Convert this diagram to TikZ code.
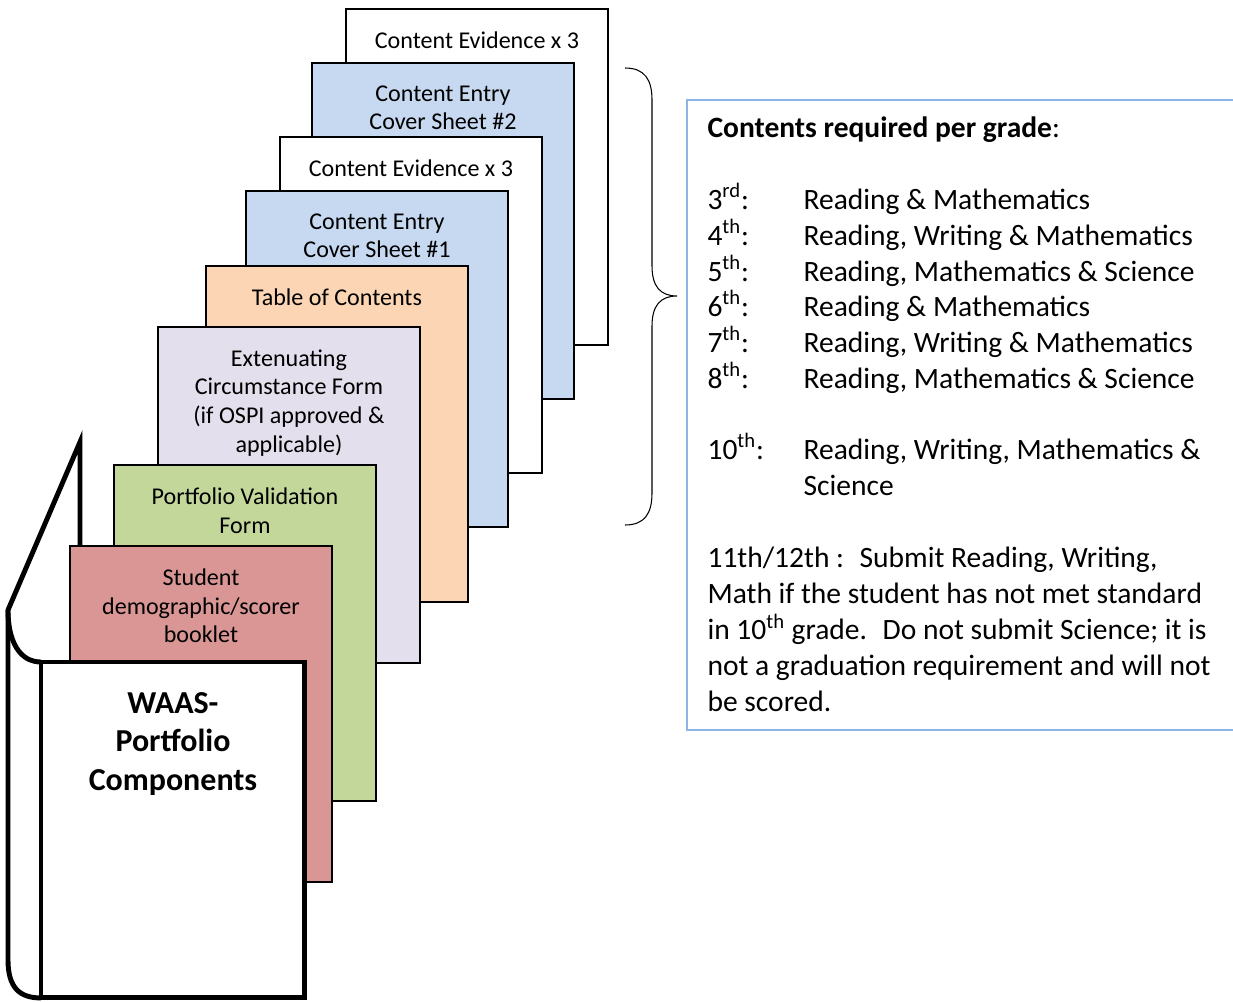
\documentclass[tikz,border=0pt]{standalone}
\usepackage{fontspec}
\setmainfont{Carlito}
\usepackage{xcolor}
\definecolor{sheetblue}{HTML}{C6D9F0}
\definecolor{sheetorange}{HTML}{FCD5B4}
\definecolor{sheetlilac}{HTML}{E4DFEC}
\definecolor{sheetgreen}{HTML}{C4D79B}
\definecolor{sheetpink}{HTML}{D99694}
\definecolor{boxblue}{HTML}{8EB4E3}
\usepackage{tikz}
\usetikzlibrary{positioning}

\begin{document}
\begin{tikzpicture}[x=0.02cm,y=-0.02cm,semithick]
              \tikzstyle{sheet}=[draw=black,line width=1.2pt,minimum width=5.24cm,minimum height=6.72cm,inner sep=0pt,outer sep=0pt,anchor=north west]
              \tikzstyle{sheettext}=[inner sep=0pt,align=center,font=\fontsize{13.7}{16.4}\selectfont]
              \tikzstyle{binder}=[line width=2.8pt]
              \tikzstyle{reqtext}=[anchor=base west,inner sep=0pt,font=\fontsize{16.8}{20.5}\selectfont]

              \path[use as bounding box] (0,0) rectangle (1233,1001);
              \clip (0,0) rectangle (1233,1001);

              % the pages, back to front
              \node[sheet,fill=white]       (s1) at (346,9)   {};
              \node[sheettext,below=0.44cm of s1.north] {Content Evidence x 3};
              \node[sheet,fill=sheetblue]   (s2) at (312,63)  {};
              \node[sheettext,below=0.44cm of s2.north] {Content Entry\\Cover Sheet \#2};
              \node[sheet,fill=white]       (s3) at (280,137) {};
              \node[sheettext,below=0.44cm of s3.north] {Content Evidence x 3};
              \node[sheet,fill=sheetblue]   (s4) at (246,191) {};
              \node[sheettext,below=0.44cm of s4.north] {Content Entry\\Cover Sheet \#1};
              \node[sheet,fill=sheetorange] (s5) at (206,266) {};
              \node[sheettext,below=0.44cm of s5.north] {Table of Contents};
              \node[sheet,fill=sheetlilac]  (s6) at (158,327) {};
              \node[sheettext,below=0.44cm of s6.north] {Extenuating\\Circumstance Form\\(if OSPI approved \&\\applicable)};
              \node[sheet,fill=sheetgreen]  (s7) at (114,465) {};
              \node[sheettext,below=0.44cm of s7.north] {Portfolio Validation\\Form};
              \node[sheet,fill=sheetpink]   (s8) at (70,546)  {};
              \node[sheettext,below=0.44cm of s8.north] {Student\\demographic/scorer\\booklet};

              % binder cover and spine
              \node[sheet,fill=white,line width=2.8pt,minimum width=5.28cm] (front) at (41,662) {};
              \node[sheettext,below=0.6cm of front.north,font=\fontsize{18.2}{21.8}\bfseries] {WAAS-\\Portfolio\\Components};
              \coordinate (hinge) at (8,610);
              \draw[binder] (80,546) -- (80,442) -- (hinge) -- (8,960) .. controls (8,988) and (20,998) .. (front.south west);
              \draw[binder] (hinge) .. controls (8,642) and (20,662) .. (front.north west);

              % brace
              \coordinate (btop) at (625,68);
              \coordinate (btip) at (677,296);
              \coordinate (bbot) at (625,525);
              \draw (btop) .. controls (645,68) and (652,80) .. (652,100) -- (652,266)
                    .. controls (652,286) and (660,296) .. (btip)
                    .. controls (660,296) and (652,306) .. (652,326) -- (652,493)
                    .. controls (652,513) and (645,525) .. (bbot);

              % requirements box
              \node[draw=boxblue,line width=1.1pt,minimum width=12cm,minimum height=12.6cm,anchor=north west,inner sep=0pt] (req) at (686,99) {};
              \node[reqtext] (head) at (707,137) {\textbf{Contents required per grade}:};
              \foreach \g/\s/\y in {3\textsuperscript{rd}/{Reading \& Mathematics}/209,
                                    4\textsuperscript{th}/{Reading, Writing \& Mathematics}/245,
                                    5\textsuperscript{th}/{Reading, Mathematics \& Science}/281,
                                    6\textsuperscript{th}/{Reading \& Mathematics}/316,
                                    7\textsuperscript{th}/{Reading, Writing \& Mathematics}/352,
                                    8\textsuperscript{th}/{Reading, Mathematics \& Science}/388,
                                    10\textsuperscript{th}/{Reading, Writing, Mathematics \&}/459}
                {
                  \node[reqtext] (g\y) at (707,\y) {\g:};
                  \node[reqtext] (s\y) at (803,\y) {\s};
                }
              \node[reqtext] (sci) at (803,495) {Science};
              \node[reqtext,align=left,font=\fontsize{16.8}{20.45}\selectfont] (note) at (707,711) {11th/12th :~ Submit Reading, Writing,\\Math if the student has not met standard\\in 10\textsuperscript{th} grade.~ Do not submit Science; it is\\not a graduation requirement and will not\\be scored.};
\end{tikzpicture}
\end{document}
